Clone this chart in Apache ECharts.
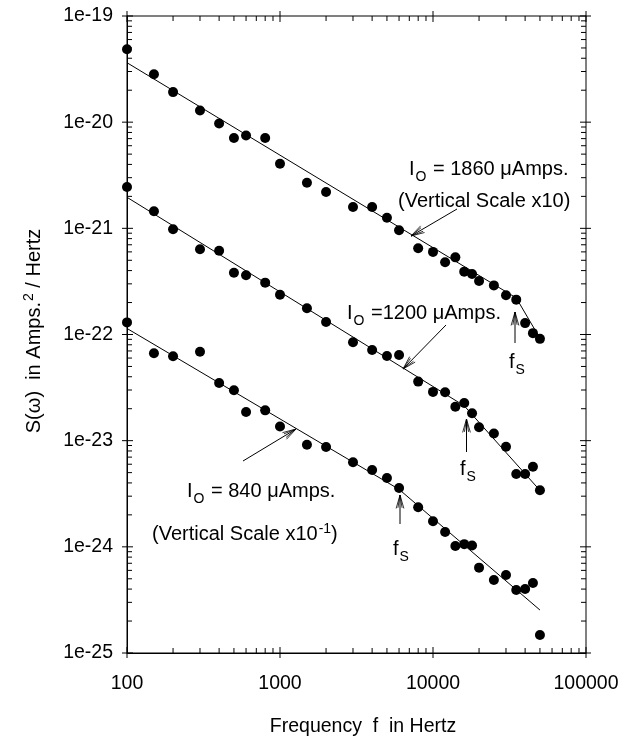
<!DOCTYPE html>
<html lang="en">
<head>
    <meta charset="UTF-8">
    <title>S(w) vs frequency</title>
    <script src="https://cdn.jsdelivr.net/npm/echarts@6/dist/echarts.min.js"></script>
    <style>
        body { margin: 0; background: #fff; }
        #main { width: 624px; height: 737px; }
    </style>
</head>
<body>
<div id="main"></div>
<script type="text/javascript">
    // frequencies (Hz) shared by the three runs
    var freq = [100, 150, 200, 300, 400, 500, 600, 800, 1000, 1500, 2000, 3000, 4000, 5000, 6000,
        8000, 10000, 12000, 14000, 16000, 18000, 20000, 25000, 30000, 35000, 40000, 45000, 50000];

    // S(w) in A^2/Hz
    var s1860 = [4.86e-20, 2.83e-20, 1.92e-20, 1.29e-20, 9.7e-21, 7.1e-21, 7.5e-21, 7.1e-21, 4.06e-21, 2.69e-21,
        2.2e-21, 1.59e-21, 1.59e-21, 1.26e-21, 9.6e-22, 6.5e-22, 6.0e-22, 4.79e-22, 5.33e-22, 3.91e-22,
        3.72e-22, 3.19e-22, 2.9e-22, 2.34e-22, 2.13e-22, 1.28e-22, 1.03e-22, 9.1e-23];
    var s1200 = [2.45e-21, 1.45e-21, 9.8e-22, 6.35e-22, 6.15e-22, 3.82e-22, 3.61e-22, 3.08e-22, 2.37e-22, 1.77e-22,
        1.31e-22, 8.45e-23, 7.15e-23, 6.28e-23, 6.41e-23, 3.6e-23, 2.88e-23, 2.86e-23, 2.09e-23, 2.26e-23,
        1.81e-23, 1.34e-23, 1.17e-23, 8.78e-24, 4.85e-24, 4.85e-24, 5.69e-24, 3.41e-24];
    var s840 = [1.30e-22, 6.65e-23, 6.24e-23, 6.89e-23, 3.49e-23, 2.98e-23, 1.86e-23, 1.93e-23, 1.36e-23, 9.17e-24,
        8.71e-24, 6.25e-24, 5.29e-24, 4.45e-24, 3.58e-24, 2.36e-24, 1.74e-24, 1.38e-24, 1.02e-24, 1.06e-24,
        1.03e-24, 6.37e-25, 4.88e-25, 5.43e-25, 3.92e-25, 4.0e-25, 4.57e-25, 1.48e-25];

    // fitted lines (with the break at f_s)
    var fit1860 = [[100, 3.63e-20], [35000, 2.21e-22], [50000, 9.2e-23]];
    var fit1200 = [[100, 1.96e-21], [16000, 2.13e-23], [50000, 3.4e-24]];
    var fit840 = [[100, 1.14e-22], [6000, 3.48e-24], [50000, 2.54e-25]];

    var xTickLabels = ['100', '1000', '10000', '100000'];
    var yTickLabels = ['1e-25', '1e-24', '1e-23', '1e-22', '1e-21', '1e-20', '1e-19'];

    // echarts rounds at 20 decimals, so values like 1e-25 collapse to 0 on a log axis;
    // the y axis therefore runs in units of 1e-25 A^2/Hz and the labels say the real value
    var UNIT = 1e25;
    var xMin = 100, xMax = 100000, yMin = 1, yMax = 1e6;
    var FONT = "'Liberation Sans', Arial, Helvetica, sans-serif";

    function pairs(ys) {
        var out = [];
        for (var i = 0; i < freq.length; i++) out.push([freq[i], ys[i] * UNIT]);
        return out;
    }
    function scaled(d) {
        return d.map(function (p) { return [p[0], p[1] * UNIT]; });
    }

    // 1..9 per decade tick values for the log axes
    var xTicks = [], yTicks = [];
    for (var d = 2; d < 5; d++) for (var m = 1; m < 10; m++) xTicks.push([m * Math.pow(10, d), yMin]);
    xTicks.push([xMax, yMin]);
    for (var e = 0; e < 6; e++) for (var k = 1; k < 10; k++) yTicks.push([xMin, k * Math.pow(10, e)]);
    yTicks.push([xMin, yMax]);

    function isDecade(v) {
        var l = Math.log10(v);
        return Math.abs(l - Math.round(l)) < 1e-6;
    }

    var tickStyle = {stroke: '#000', lineWidth: 1};

    function renderXTicks(params, api) {
        var f = api.value(0);
        var b = api.coord([f, yMin]);
        var t = api.coord([f, yMax]);
        var maj = isDecade(f);
        var out = maj ? 5 : 0, inn = maj ? 6 : 5;
        return {
            type: 'group', children: [
                {type: 'line', shape: {x1: b[0], y1: b[1] + out, x2: b[0], y2: b[1] - inn}, style: tickStyle},
                {type: 'line', shape: {x1: t[0], y1: t[1] - out, x2: t[0], y2: t[1] + inn}, style: tickStyle}
            ]
        };
    }

    function renderYTicks(params, api) {
        var s = api.value(1);
        var l = api.coord([xMin, s]);
        var r = api.coord([xMax, s]);
        var maj = isDecade(s);
        var out = maj ? 5 : 0, inn = maj ? 6 : 5;
        return {
            type: 'group', children: [
                {type: 'line', shape: {x1: l[0] - out, y1: l[1], x2: l[0] + inn, y2: l[1]}, style: tickStyle},
                {type: 'line', shape: {x1: r[0] + out, y1: r[1], x2: r[0] - inn, y2: r[1]}, style: tickStyle}
            ]
        };
    }

    function arrow(x1, y1, x2, y2) {
        var a = Math.atan2(y2 - y1, x2 - x1);
        var kids = [{type: 'line', shape: {x1: x1, y1: y1, x2: x2, y2: y2}, style: {stroke: '#000', lineWidth: 1}}];
        [[0.28, 14], [0.16, 13]].forEach(function (h) {
            [1, -1].forEach(function (sg) {
                kids.push({
                    type: 'line',
                    shape: {x1: x2, y1: y2, x2: x2 - h[1] * Math.cos(a + sg * h[0]), y2: y2 - h[1] * Math.sin(a + sg * h[0])},
                    style: {stroke: '#000', lineWidth: 0.8}
                });
            });
        });
        return {type: 'group', children: kids, z: 100};
    }

    var richSub = {
        a: {fontSize: 20, lineHeight: 22, verticalAlign: 'top', fontFamily: FONT, fill: '#000'},
        s: {fontSize: 14, lineHeight: 14, padding: [11, 1, 0, 1], verticalAlign: 'top', fontFamily: FONT, fill: '#000'}
    };
    var richSup = {
        a: {fontSize: 20, lineHeight: 22, verticalAlign: 'bottom', fontFamily: FONT, fill: '#000'},
        p: {fontSize: 14, lineHeight: 14, padding: [0, 0, 16, 1], verticalAlign: 'top', fontFamily: FONT, fill: '#000'}
    };

    function label(x, y, text, rich, rot) {
        return {
            type: 'text', x: x, y: y, rotation: rot || 0, z: 100,
            style: {text: text, rich: rich, align: rot ? 'center' : 'left', verticalAlign: 'middle', fill: '#000'}
        };
    }

    var myChart = echarts.init(document.getElementById('main'));

    var dotSeries = function (name, ys) {
        return {
            name: name, type: 'scatter', data: pairs(ys), symbol: 'circle', symbolSize: 10,
            itemStyle: {color: '#000', opacity: 1}, z: 5
        };
    };
    var fitSeries = function (name, d) {
        return {
            name: name, type: 'line', data: scaled(d), showSymbol: false, symbol: 'none',
            lineStyle: {color: '#000', width: 1}, z: 4
        };
    };

    option = {
        backgroundColor: '#fff',
        animation: false,
        grid: {
            left: 127, right: 38, top: 16, bottom: 84,
            show: true, borderColor: '#000', borderWidth: 1
        },
        xAxis: {
            type: 'log', logBase: 10, min: xMin, max: xMax, interval: 1,
            axisLine: {show: true, lineStyle: {color: '#000', width: 1}},
            axisTick: {show: false},
            splitLine: {show: false},
            axisLabel: {
                color: '#000', fontSize: 19.5, fontFamily: FONT, margin: 21,
                formatter: function (v) { return xTickLabels[Math.round(Math.log10(v)) - 2]; }
            }
        },
        yAxis: {
            type: 'log', logBase: 10, min: yMin, max: yMax, interval: 1,
            axisLine: {show: true, lineStyle: {color: '#000', width: 1}},
            axisTick: {show: false},
            splitLine: {show: false},
            axisLabel: {
                color: '#000', fontSize: 19.5, fontFamily: FONT, margin: 14,
                formatter: function (v) { return yTickLabels[Math.round(Math.log10(v))]; }
            }
        },
        series: [
            fitSeries('fit 1860', fit1860),
            fitSeries('fit 1200', fit1200),
            fitSeries('fit 840', fit840),
            dotSeries('1860 uA', s1860),
            dotSeries('1200 uA', s1200),
            dotSeries('840 uA', s840),
            {type: 'custom', data: xTicks, renderItem: renderXTicks, clip: false, silent: true, z: 10},
            {type: 'custom', data: yTicks, renderItem: renderYTicks, clip: false, silent: true, z: 10}
        ],
        graphic: [
            // axis titles
            label(33, 331, '{a|S(ω)  in Amps.}{p|2}{a| / Hertz}', richSup, Math.PI / 2),
            {type: 'text', x: 363, y: 727, z: 100,
                style: {text: 'Frequency  f  in Hertz', font: '19.5px ' + FONT, fill: '#000', align: 'center', verticalAlign: 'middle'}},
            // annotations
            label(409, 170, '{a|I}{s|O}{a| = 1860 μAmps.}', richSub),
            label(398, 202, '{a|(Vertical Scale x10)}', richSub),
            arrow(457, 209, 411, 236),
            label(347, 314, '{a|I}{s|O}{a| =1200 μAmps.}', richSub),
            arrow(446, 325, 403, 369),
            label(187, 492, '{a|I}{s|O}{a| = 840 μAmps.}', richSub),
            label(152, 533, '{a|(Vertical Scale x10}{p|-1}{a|)}', richSup),
            arrow(243, 461, 296, 429),
            // f_s markers
            arrow(515, 343, 515, 312),
            label(509, 363, '{a|f}{s|S}', richSub),
            arrow(466.5, 452, 466.5, 419),
            label(460, 470, '{a|f}{s|S}', richSub),
            arrow(400, 524, 400, 495),
            label(393, 550, '{a|f}{s|S}', richSub)
        ]
    };
    myChart.setOption(option);
</script>
</body>
</html>
